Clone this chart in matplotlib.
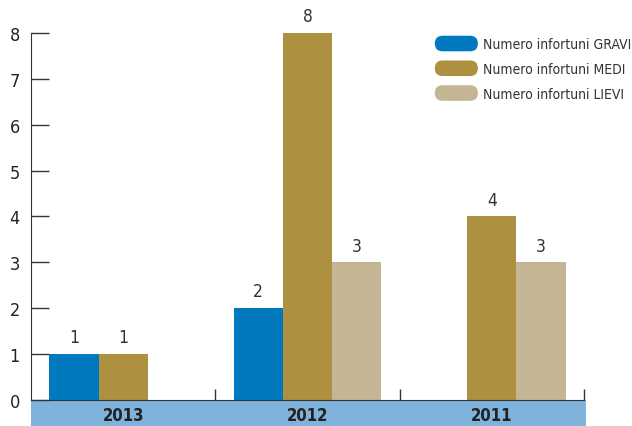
import matplotlib.pyplot as plt
import matplotlib.patches as mpatches
from matplotlib.legend_handler import HandlerPatch
from matplotlib.patches import FancyBboxPatch, Rectangle
import numpy as np

# Data
years = ['2013', '2012', '2011']
gravi = [1, 2, None]
medi = [1, 8, 4]
lievi = [None, 3, 3]
series_names = ['Numero infortuni GRAVI', 'Numero infortuni MEDI', 'Numero infortuni LIEVI']
colors = ['#0079bf', '#ad9140', '#c4b594']

plt.rcParams['font.family'] = ['DejaVu Sans']
plt.rcParams['font.stretch'] = 'condensed'


class RoundHandler(HandlerPatch):
    def create_artists(self, legend, orig_handle, xdescent, ydescent,
                       width, height, fontsize, trans):
        r = height / 2
        p = FancyBboxPatch((-xdescent, -ydescent), width, height,
                           boxstyle=f'round,pad=0,rounding_size={r}',
                           facecolor=orig_handle.get_facecolor(), edgecolor='none',
                           transform=trans)
        return [p]


fig = plt.figure(figsize=(6.32, 4.27), dpi=100)
ax = fig.add_axes([0.049, 0.0609, 0.875, 0.8595])

x = np.arange(len(years))
w = 0.267
for i, (vals, col) in enumerate(zip([gravi, medi, lievi], colors)):
    for xi, v in zip(x, vals):
        if v is None:
            continue
        ax.bar(xi + (i - 1) * w, v, width=w, color=col, zorder=2)
        ax.text(xi + (i - 1) * w, v + 0.17, str(v), ha='center', va='bottom',
                fontsize=12.5, color='#333333')

ax.set_xlim(-0.5, 2.5)
ax.set_ylim(0, 8)

for s in ['top', 'right']:
    ax.spines[s].set_visible(False)
ax.spines['left'].set_color('#333333')
ax.spines['bottom'].set_color('#333333')

ax.set_yticks(range(0, 9))
ax.tick_params(axis='y', direction='in', length=13, width=1, color='#333333',
               labelsize=13, labelcolor='#222222', pad=8)

# category labels inside a blue band below the axis
ax.set_xticks(x)
ax.set_xticklabels(years, fontweight='bold', fontsize=12, color='#222222')
ax.tick_params(axis='x', which='major', length=0, pad=4)
ax.set_xticks([0.5, 1.5, 2.5], minor=True)
ax.tick_params(axis='x', which='minor', direction='in', length=8, width=1, color='#333333')

band = Rectangle((0, 0), 1.004, -0.0712, transform=ax.transAxes, facecolor='#7fb3dc',
                 edgecolor='none', clip_on=False, zorder=0)
ax.add_patch(band)

handles = [mpatches.Patch(color=c) for c in colors]
ax.legend(handles, series_names, handler_map={mpatches.Patch: RoundHandler()},
          loc='upper left', bbox_to_anchor=(0.688, 0.914), bbox_transform=fig.transFigure,
          frameon=False, borderpad=0, borderaxespad=0,
          fontsize=10, handlelength=3.1, handleheight=1.35, handletextpad=0.35,
          labelspacing=0.66, labelcolor='#333333')

fig.savefig('out.png', dpi=100)
